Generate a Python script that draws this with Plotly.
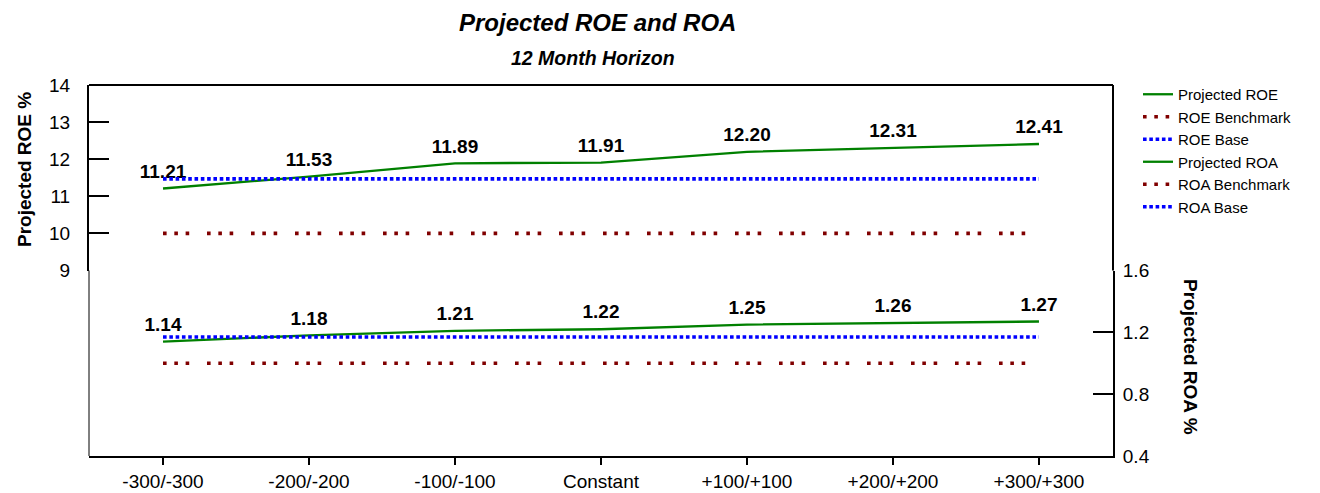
import plotly.graph_objects as go

categories = ["-300/-300", "-200/-200", "-100/-100", "Constant", "+100/+100", "+200/+200", "+300/+300"]
roe_projected = [11.21, 11.53, 11.89, 11.91, 12.20, 12.31, 12.41]
roe_benchmark = [10.0] * 7
roe_base = [11.47] * 7
roa_projected = [1.14, 1.18, 1.21, 1.22, 1.25, 1.26, 1.27]
roa_benchmark = [1.0] * 7
roa_base = [1.17] * 7
roe_ticks = [9, 10, 11, 12, 13, 14]
roa_ticks = [0.4, 0.8, 1.2, 1.6]

FONT = "Liberation Sans, Arial, sans-serif"
GREEN = "#008000"
DRED = "#800000"
BLUE = "#0000FF"

# page body has an 8px margin: figure is drawn from (8, 8)
OFF = 8
FIG_W, FIG_H = 1320 - OFF, 493 - OFF
# plot area in screen pixels
L, R, T, B = 89, 1113, 85, 456
W, H = R - L, B - T
def px(x):
    return (x - L) / W
def py(y):
    return (B - y) / H

x_idx = list(range(len(categories)))
bench_dash = "3.6px,7.7px,3.6px,7.7px,3.6px,17.8px"
base_dash = "3.6px,2.7px"
label_font = dict(family=FONT, size=19, color="black", weight="bold")
ghost_marker = dict(size=8, color="rgba(0,0,0,0)")

fig = go.Figure()
fig.add_trace(go.Scatter(x=x_idx, y=roe_projected, name="Projected ROE", mode="lines+markers+text",
                         line=dict(color=GREEN, width=2.3), marker=ghost_marker,
                         text=[f"{v:.2f}" for v in roe_projected], textposition="top center",
                         textfont=label_font, xaxis="x", yaxis="y"))
fig.add_trace(go.Scatter(x=x_idx, y=roe_benchmark, name="ROE Benchmark", mode="lines",
                         line=dict(color=DRED, width=3.6, dash=bench_dash), xaxis="x", yaxis="y"))
fig.add_trace(go.Scatter(x=x_idx, y=roe_base, name="ROE Base", mode="lines",
                         line=dict(color=BLUE, width=3.6, dash=base_dash), xaxis="x", yaxis="y"))
fig.add_trace(go.Scatter(x=x_idx, y=roa_projected, name="Projected ROA", mode="lines+markers+text",
                         line=dict(color=GREEN, width=2.3), marker=ghost_marker,
                         text=[f"{v:.2f}" for v in roa_projected], textposition="top center",
                         textfont=label_font, xaxis="x", yaxis="y2"))
fig.add_trace(go.Scatter(x=x_idx, y=roa_benchmark, name="ROA Benchmark", mode="lines",
                         line=dict(color=DRED, width=3.6, dash=bench_dash), xaxis="x", yaxis="y2"))
fig.add_trace(go.Scatter(x=x_idx, y=roa_base, name="ROA Base", mode="lines",
                         line=dict(color=BLUE, width=3.6, dash=base_dash), xaxis="x", yaxis="y2"))
# carrier (draws nothing) so the ROE tick-label axis is rendered
fig.add_trace(go.Scatter(x=x_idx, y=roe_base, mode="none", showlegend=False, hoverinfo="skip",
                         xaxis="x", yaxis="y3"))

axis_common = dict(showgrid=False, zeroline=False, linecolor="black",
                   automargin=False,
                   tickfont=dict(family=FONT, size=19, color="black"))

fig.update_layout(
    width=FIG_W, height=FIG_H,
    margin=dict(l=L - OFF, r=1320 - R, t=T - OFF, b=493 - B, pad=0, autoexpand=False),
    paper_bgcolor="white", plot_bgcolor="white",
    font=dict(family=FONT, color="black"),
    hovermode=False,
    xaxis=dict(domain=[0, 1], anchor="y2", range=[-0.507, 6.507],
               tickvals=x_idx, ticktext=categories,
               ticks="outside", ticklen=7, tickwidth=2, tickcolor="black",
               showline=True, linewidth=2, **axis_common),
    yaxis=dict(domain=[0.5, 1], range=[9, 14], anchor="x", side="left",
               tickvals=roe_ticks[1:-1], ticks="inside", ticklen=20, tickwidth=2, tickcolor="black",
               showticklabels=False, showline=True, linewidth=2, **axis_common),
    yaxis3=dict(overlaying="y", range=[9, 14], anchor="x", side="left",
                tickvals=roe_ticks, ticks="outside", ticklen=14, tickcolor="rgba(0,0,0,0)",
                showticklabels=True, showline=False, **axis_common),
    yaxis2=dict(domain=[0, 0.5], range=[0.4, 1.6], anchor="x", side="right",
                tickvals=roa_ticks, tickformat=".1f", ticks="inside", ticklen=20, tickwidth=2,
                tickcolor="black", ticklabelstandoff=4,
                showline=True, linewidth=2, **axis_common),
    showlegend=True,
    legend=dict(x=px(1138), y=py(78), xanchor="left", yanchor="top",
                font=dict(family=FONT, size=15, color="black"),
                bgcolor="rgba(0,0,0,0)", tracegroupgap=0),
    shapes=[
        dict(type="line", xref="paper", yref="paper", x0=0, x1=1, y0=1, y1=1,
             line=dict(color="black", width=2)),
        dict(type="line", xref="paper", yref="paper", x0=1, x1=1, y0=0.5, y1=1,
             line=dict(color="black", width=2)),
        dict(type="line", xref="paper", yref="paper", x0=0, x1=0, y0=0, y1=0.5,
             line=dict(color="black", width=1)),
    ],
    annotations=[
        dict(text="<b><i>Projected ROE and ROA</i></b>", xref="paper", yref="paper",
             x=px(597), y=py(22), xanchor="center", yanchor="middle", showarrow=False,
             font=dict(family=FONT, size=24, color="black")),
        dict(text="<b><i>12 Month Horizon</i></b>", xref="paper", yref="paper",
             x=px(593), y=py(58), xanchor="center", yanchor="middle", showarrow=False,
             font=dict(family=FONT, size=19.5, color="black")),
        dict(text="<b>Projected ROE %</b>", xref="paper", yref="paper",
             x=px(24), y=py(170), xanchor="center", yanchor="middle", showarrow=False,
             textangle=-90, font=dict(family=FONT, size=19, color="black")),
        dict(text="<b>Projected ROA %</b>", xref="paper", yref="paper",
             x=px(1191), y=py(357), xanchor="center", yanchor="middle", showarrow=False,
             textangle=90, font=dict(family=FONT, size=19, color="black")),
    ],
)

fig.write_html("out.html")
